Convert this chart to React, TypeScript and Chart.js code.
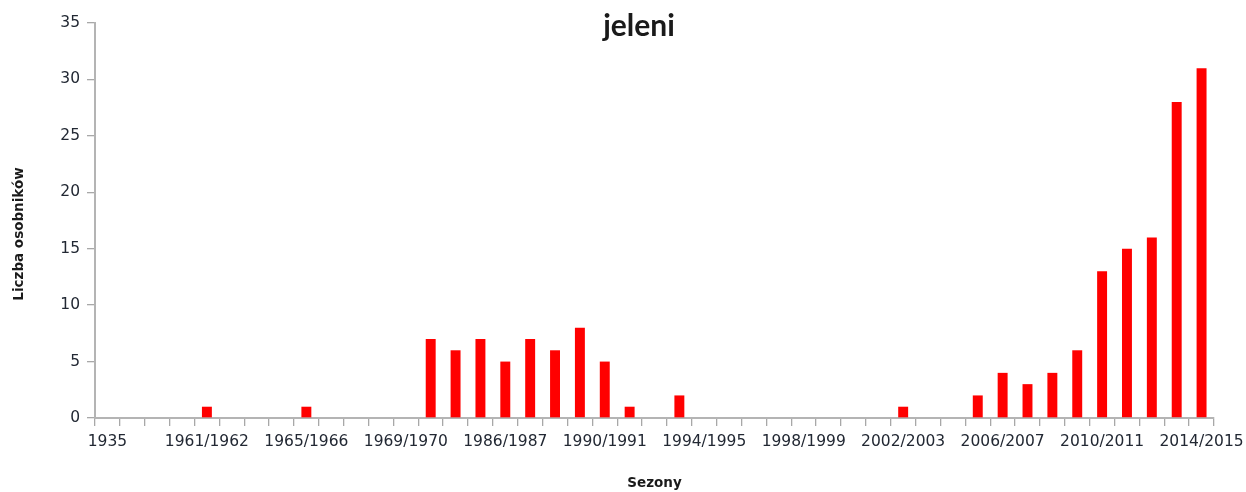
import React, { useEffect, useRef } from 'react';
import { Chart, registerables } from 'chart.js';

Chart.register(...registerables);

const chartTitle = 'jeleni';
const xTitle = 'Sezony';
const yTitle = 'Liczba osobników';

const seasons = [
  '1935', '1958/1959', '1959/1960', '1960/1961',
  '1961/1962', '1962/1963', '1963/1964', '1964/1965',
  '1965/1966', '1966/1967', '1967/1968', '1968/1969',
  '1969/1970', '1983/1984', '1984/1985', '1985/1986',
  '1986/1987', '1987/1988', '1988/1989', '1989/1990',
  '1990/1991', '1991/1992', '1992/1993', '1993/1994',
  '1994/1995', '1995/1996', '1996/1997', '1997/1998',
  '1998/1999', '1999/2000', '2000/2001', '2001/2002',
  '2002/2003', '2003/2004', '2004/2005', '2005/2006',
  '2006/2007', '2007/2008', '2008/2009', '2009/2010',
  '2010/2011', '2011/2012', '2012/2013', '2013/2014',
  '2014/2015',
];

const counts = [
  0, 0, 0, 0,
  1, 0, 0, 0,
  1, 0, 0, 0,
  0, 7, 6, 7,
  5, 7, 6, 8,
  5, 1, 0, 2,
  0, 0, 0, 0,
  0, 0, 0, 0,
  1, 0, 0, 2,
  4, 3, 4, 6,
  13, 15, 16, 28,
  31,
];

const yMin = 0;
const yMax = 35;
const yStep = 5;
const labelEvery = 4;

export default function App() {
  const ref = useRef<HTMLCanvasElement>(null);

  useEffect(() => {
    if (!ref.current) return;
    const titlePlugin = {
      id: 'customTitles',
      afterDraw(chart: any) {
        const ctx = chart.ctx;
        ctx.save();
        ctx.fillStyle = '#1a1a1a';
        ctx.font = 'bold 30px Lato';
        ctx.textAlign = 'center';
        ctx.textBaseline = 'alphabetic';
        ctx.fillText(chartTitle, 639, 36);
        ctx.translate(19.5, 234);
        ctx.rotate(-Math.PI / 2);
        ctx.font = 'bold 13.5px "DejaVu Sans"';
        ctx.textBaseline = 'middle';
        ctx.fillText(yTitle, 0, 0);
        ctx.restore();
      },
    };

    const tickFont = { family: 'DejaVu Sans', size: 15.5 };
    const chart = new Chart(ref.current, {
      type: 'bar',
      data: {
        labels: seasons,
        datasets: [
          {
            data: counts,
            backgroundColor: '#ff0000',
            borderWidth: 0,
            barPercentage: 0.5,
            categoryPercentage: 0.8,
          },
        ],
      },
      options: {
        animation: false,
        responsive: false,
        layout: { padding: { top: 23, right: 46, left: 0, bottom: 0 } },
        plugins: {
          legend: { display: false },
          tooltip: { enabled: false },
          title: { display: false },
        },
        scales: {
          x: {
            offset: true,
            grid: {
              offset: true,
              drawOnChartArea: false,
              tickLength: 8,
              color: '#a8a8a8',
              lineWidth: 1.3,
            },
            border: { color: '#b4b4b4', width: 2 },
            ticks: {
              autoSkip: false,
              maxRotation: 0,
              minRotation: 0,
              padding: 7,
              color: '#222833',
              font: tickFont,
              callback: (_v: any, i: number) => (i % labelEvery === 0 ? seasons[i] : ''),
            },
            title: {
              display: true,
              text: xTitle,
              color: '#1a1a1a',
              font: { family: 'DejaVu Sans', size: 13.5, weight: 'bold' },
              padding: { top: 0, bottom: 0 },
            },
            afterFit: (s: any) => {
              s.height = 74;
            },
          },
          y: {
            min: yMin,
            max: yMax,
            grid: {
              drawOnChartArea: false,
              tickLength: 8,
              color: '#a8a8a8',
              lineWidth: 1.3,
            },
            border: { color: '#b4b4b4', width: 2 },
            ticks: {
              stepSize: yStep,
              padding: 7,
              color: '#222833',
              font: tickFont,
            },
            afterFit: (s: any) => {
              s.width = 95;
            },
          },
        },
      },
      plugins: [titlePlugin],
    } as any);
    return () => chart.destroy();
  }, []);

  return (
    <div style={{ position: 'absolute', left: 0, top: 0, width: 1246, height: 492, overflow: 'hidden', background: '#fff' }}>
      <canvas ref={ref} width={1260} height={492} style={{ display: 'block' }} />
    </div>
  );
}
